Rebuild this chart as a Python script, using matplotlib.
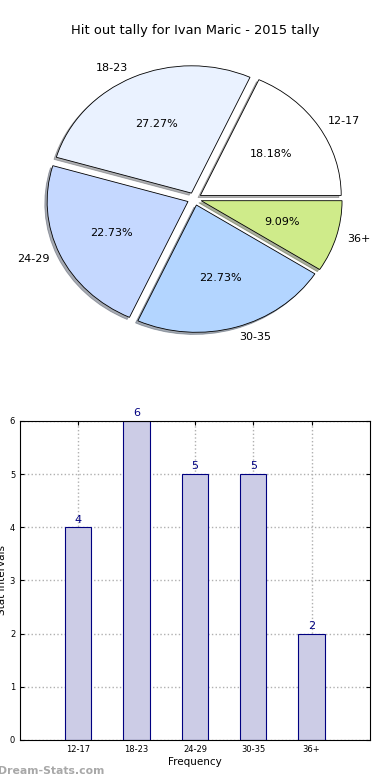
import matplotlib
matplotlib.use('Agg')
import matplotlib.pyplot as plt

plt.rcParams.update({
    'font.family': 'DejaVu Sans',
    'font.size': 8,
})

title = 'Hit out tally for Ivan Maric - 2015 tally'
categories = ['12-17', '18-23', '24-29', '30-35', '36+']
counts = [4, 6, 5, 5, 2]
pie_colors = ['#FFFFFF', '#EAF2FF', '#C5D8FF', '#B3D5FF', '#CFEB8A']

fig = plt.figure(figsize=(3.9, 7.8), dpi=100)

# Pie (not equal aspect, like the old-style output)
ax1 = fig.add_axes([0.047, 0.541, 0.903, 0.408])
wedges, texts, autotexts = ax1.pie(
    counts, labels=categories, colors=pie_colors, explode=[0.05] * len(counts),
    autopct='%1.2f%%', shadow={'ox': -0.012, 'oy': -0.012, 'shade': 0.6},
    startangle=0, labeldistance=1.08,
    wedgeprops=dict(edgecolor='black', linewidth=0.6),
    textprops=dict(fontsize=8))
ax1.set_aspect('auto')
ax1.set_xlim(-1.25, 1.25)
ax1.set_ylim(-1.25, 1.25)
ax1.axis('off')
fig.text(0.5, 0.961, title, ha='center', va='center', fontsize=9.4)

# Bar chart
ax2 = fig.add_axes([0.0513, 0.0513, 0.897, 0.409])
x = range(1, len(categories) + 1)
bars = ax2.bar(x, counts, width=0.45, color='#CCCCE6', edgecolor='#000080',
               linewidth=0.8, zorder=2)
for xi, v in zip(x, counts):
    ax2.text(xi, v + 0.05, str(v), ha='center', va='bottom', color='#000080', fontsize=8)
ax2.set_xlim(0, 6)
ax2.set_ylim(0, 6)
ax2.set_xticks(list(x))
ax2.set_xticklabels(categories)
ax2.set_yticks(range(7))
ax2.tick_params(labelsize=6, direction='in', top=True, right=True, length=3)
ax2.grid(True, linestyle=':', color='#B0B0B0', linewidth=1, zorder=0)
ax2.set_axisbelow(True)
ax2.set_xlabel('Frequency', fontsize=7.5, labelpad=2)
ax2.set_ylabel('Stat Intervals', fontsize=7.5, labelpad=2)

fig.text(-0.005, 0.012, 'Dream-Stats.com', ha='left', va='center', fontsize=7.8,
         color='#A8A8A8', fontweight='bold')

fig.savefig('out.png', dpi=100)
